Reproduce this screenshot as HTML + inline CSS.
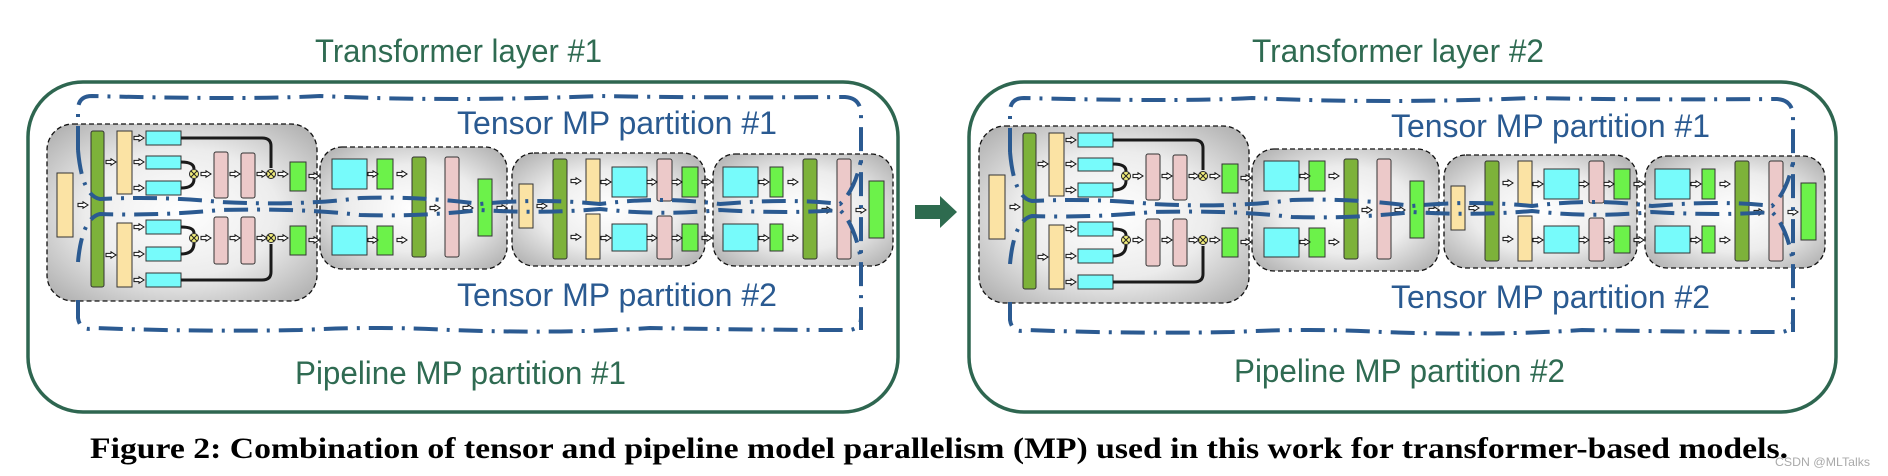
<!DOCTYPE html>
<html><head><meta charset="utf-8"><style>html,body{margin:0;padding:0;background:#fff}svg{display:block}</style></head>
<body>
<svg width="1888" height="476" viewBox="0 0 1888 476" xmlns="http://www.w3.org/2000/svg">
<defs>
<radialGradient id="gg" cx="50%" cy="50%" r="65%">
<stop offset="0" stop-color="#ffffff"/><stop offset="0.55" stop-color="#ececec"/><stop offset="1" stop-color="#b4b4b4"/>
</radialGradient>
<g id="ar"><polygon points="0,-1.6 5,-1.6 5,-3.2 10,0 5,3.2 5,1.6 0,1.6" fill="#fff" stroke="#111" stroke-width="1"/></g>
<g id="ox"><circle r="4.5" fill="#f3ee7c" stroke="#222" stroke-width="1"/><path d="M-3,-3L3,3M3,-3L-3,3" stroke="#222" stroke-width="1"/></g>
<g id="L">
<g stroke="#111" stroke-width="1.3" stroke-dasharray="5 3" fill="url(#gg)">
<rect x="47" y="124" width="270" height="177" rx="26"/>
<rect x="320" y="147" width="187" height="122" rx="22"/>
<rect x="512" y="153" width="193" height="113" rx="22"/>
<rect x="713" y="154" width="180" height="112" rx="22"/>
</g>
<g stroke="#333" stroke-width="1">
<rect x="57" y="173" width="16" height="64" fill="#fbe3a4"/>
<rect x="91" y="131" width="13" height="156" fill="#7db23a" rx="2"/>
<rect x="117" y="131" width="15" height="63" fill="#fbe3a4"/>
<rect x="117" y="223" width="15" height="64" fill="#fbe3a4"/>
<g fill="#77fbfb">
<rect x="146" y="131" width="35" height="14"/><rect x="146" y="156" width="35" height="13"/><rect x="146" y="181" width="35" height="14"/>
<rect x="146" y="220" width="35" height="14"/><rect x="146" y="247" width="35" height="14"/><rect x="146" y="273" width="35" height="14"/>
</g>
<g fill="#ecc9c9">
<rect x="214" y="152" width="14" height="46" rx="2"/><rect x="241" y="153" width="14" height="45" rx="2"/>
<rect x="214" y="217" width="14" height="47" rx="2"/><rect x="241" y="217" width="14" height="47" rx="2"/>
</g>
<rect x="290" y="162" width="16" height="29" fill="#6cf24a"/><rect x="290" y="226" width="16" height="29" fill="#6cf24a"/>
<rect x="332" y="159" width="35" height="30" fill="#77fbfb"/><rect x="332" y="226" width="35" height="29" fill="#77fbfb"/>
<rect x="377" y="159" width="16" height="30" fill="#6cf24a"/><rect x="377" y="226" width="16" height="29" fill="#6cf24a"/>
<rect x="412" y="157" width="14" height="100" fill="#7db23a" rx="2"/>
<rect x="445" y="157" width="14" height="100" fill="#ecc9c9" rx="2"/>
<rect x="478" y="179" width="14" height="57" fill="#6cf24a"/>
<rect x="519" y="184" width="14" height="44" fill="#fbe3a4"/>
<rect x="553" y="159" width="14" height="100" fill="#7db23a" rx="2"/>
<rect x="586" y="159" width="14" height="44" fill="#fbe3a4"/><rect x="586" y="214" width="14" height="45" fill="#fbe3a4"/>
<rect x="612" y="167" width="35" height="30" fill="#77fbfb"/><rect x="612" y="224" width="35" height="27" fill="#77fbfb"/>
<rect x="657" y="159" width="15" height="42" fill="#ecc9c9" rx="2"/><rect x="657" y="216" width="15" height="43" fill="#ecc9c9" rx="2"/>
<rect x="682" y="167" width="16" height="30" fill="#6cf24a"/><rect x="682" y="224" width="16" height="27" fill="#6cf24a"/>
<rect x="723" y="167" width="35" height="30" fill="#77fbfb"/><rect x="723" y="224" width="35" height="27" fill="#77fbfb"/>
<rect x="770" y="167" width="13" height="30" fill="#6cf24a"/><rect x="770" y="224" width="13" height="27" fill="#6cf24a"/>
<rect x="803" y="159" width="14" height="100" fill="#7db23a" rx="2"/>
<rect x="837" y="159" width="14" height="100" fill="#ecc9c9" rx="2"/>
<rect x="869" y="181" width="15" height="57" fill="#6cf24a"/>
</g>
<g fill="none" stroke="#1a1a1a" stroke-width="3">
<path d="M181,138H262Q271,138 271,146V168"/>
<path d="M181,162Q194,162 194,169"/><path d="M181,188Q194,188 194,179"/>
<path d="M181,227Q194,227 194,233"/><path d="M181,254Q194,254 194,243"/>
<path d="M181,280H262Q271,280 271,272V244"/>
</g>
<use href="#ox" x="194" y="174"/><use href="#ox" x="271" y="174"/><use href="#ox" x="194" y="238"/><use href="#ox" x="271" y="238"/>
<use href="#ar" x="78" y="205"/><use href="#ar" x="106" y="162"/><use href="#ar" x="106" y="255"/>
<use href="#ar" x="134" y="138"/><use href="#ar" x="134" y="162"/><use href="#ar" x="134" y="188"/>
<use href="#ar" x="134" y="227"/><use href="#ar" x="134" y="254"/><use href="#ar" x="134" y="280"/>
<use href="#ar" x="201" y="174"/><use href="#ar" x="230" y="174"/><use href="#ar" x="257" y="174"/><use href="#ar" x="278" y="174"/>
<use href="#ar" x="201" y="238"/><use href="#ar" x="230" y="238"/><use href="#ar" x="257" y="238"/><use href="#ar" x="278" y="238"/>
<use href="#ar" x="309" y="176"/><use href="#ar" x="309" y="240"/>
<use href="#ar" x="368" y="174"/><use href="#ar" x="368" y="240"/><use href="#ar" x="397" y="174"/><use href="#ar" x="397" y="240"/>
<use href="#ar" x="430" y="208"/><use href="#ar" x="463" y="208"/><use href="#ar" x="497" y="208"/>
<use href="#ar" x="537" y="206"/><use href="#ar" x="571" y="181"/><use href="#ar" x="571" y="237"/>
<use href="#ar" x="601" y="182"/><use href="#ar" x="601" y="238"/><use href="#ar" x="647" y="182"/><use href="#ar" x="647" y="238"/>
<use href="#ar" x="672" y="182"/><use href="#ar" x="672" y="238"/><use href="#ar" x="702" y="182"/><use href="#ar" x="702" y="238"/>
<use href="#ar" x="759" y="182"/><use href="#ar" x="759" y="238"/><use href="#ar" x="788" y="182"/><use href="#ar" x="788" y="238"/>
<use href="#ar" x="822" y="210"/><use href="#ar" x="856" y="210"/>
<g fill="none" stroke="#2b5a91" stroke-width="4" stroke-dasharray="24 9 3 9" stroke-linecap="butt">
<path d="M78,150V110Q78,96 92,96Q250,100 320,96Q450,102 600,96Q700,98 845,97Q861,98 861,115V330"/>
<path d="M78,300V318Q80,332 95,328Q200,332 300,330Q380,326 450,330Q560,334 650,328Q760,330 850,330Q861,328 861,318"/>
<path d="M78,150Q82,196 100,199Q160,196 220,202Q300,206 360,198Q420,196 480,204Q540,198 600,204Q660,196 720,204Q790,198 840,204Q855,190 861,160"/>
<path d="M78,262Q82,218 100,214Q160,216 220,210Q300,208 360,215Q420,217 480,210Q540,214 600,209Q660,216 720,210Q790,214 840,210Q855,225 861,260"/>
</g>
</g>
</defs>
<rect x="28" y="82" width="870" height="330" rx="55" fill="none" stroke="#2e6650" stroke-width="3.5"/>
<rect x="969" y="82" width="867" height="330" rx="55" fill="none" stroke="#2e6650" stroke-width="3.5"/>
<use href="#L"/>
<use href="#L" transform="translate(932,2)"/>
<polygon points="915,205 940,205 940,196 957,212 940,228 940,219 915,219" fill="#2e6b4f"/>
<g font-family="Liberation Sans, sans-serif" font-size="32">
<text x="315" y="62" textLength="287" lengthAdjust="spacingAndGlyphs" fill="#2f6b52">Transformer layer #1</text>
<text x="1252" y="62" textLength="292" lengthAdjust="spacingAndGlyphs" fill="#2f6b52">Transformer layer #2</text>
<text x="457" y="134" textLength="320" lengthAdjust="spacingAndGlyphs" fill="#2a5a91">Tensor MP partition #1</text>
<text x="457" y="306" textLength="320" lengthAdjust="spacingAndGlyphs" fill="#2a5a91">Tensor MP partition #2</text>
<text x="1391" y="137" textLength="319" lengthAdjust="spacingAndGlyphs" fill="#2a5a91">Tensor MP partition #1</text>
<text x="1391" y="308" textLength="319" lengthAdjust="spacingAndGlyphs" fill="#2a5a91">Tensor MP partition #2</text>
<text x="295" y="384" textLength="331" lengthAdjust="spacingAndGlyphs" fill="#2f6b52">Pipeline MP partition #1</text>
<text x="1234" y="382" textLength="331" lengthAdjust="spacingAndGlyphs" fill="#2f6b52">Pipeline MP partition #2</text>
</g>
<text x="90" y="458" font-family="Liberation Serif, serif" font-weight="bold" font-size="30" textLength="1698" lengthAdjust="spacingAndGlyphs" fill="#000">Figure 2: Combination of tensor and pipeline model parallelism (MP) used in this work for transformer-based models.</text>
<text x="1775" y="466" font-family="Liberation Sans, sans-serif" font-size="12" fill="#aaa" textLength="95" lengthAdjust="spacingAndGlyphs">CSDN @MLTalks</text>
</svg>
</body></html>
